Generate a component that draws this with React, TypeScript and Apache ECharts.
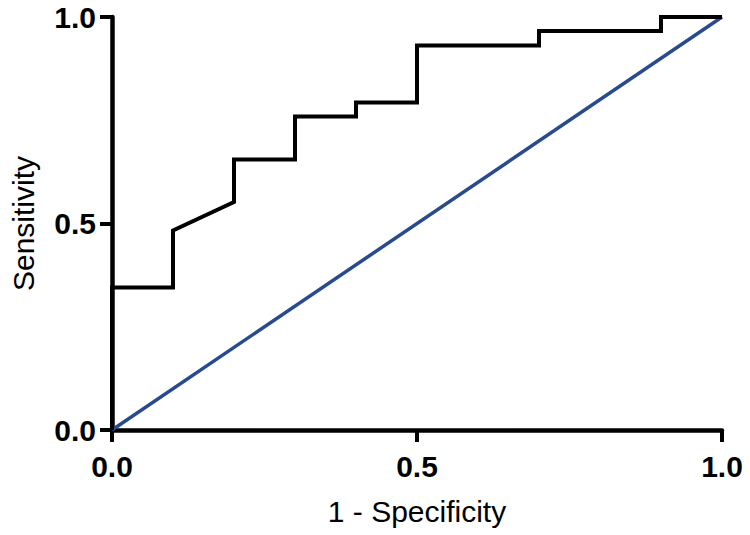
import React, { useEffect, useRef } from "react";
import * as echarts from "echarts";

const fpr = [0, 0, 0.1, 0.1, 0.2, 0.2, 0.3, 0.3, 0.4, 0.4, 0.5, 0.5, 0.7, 0.7, 0.9, 0.9, 1.0];
const sensitivity = [0, 0.345, 0.345, 0.483, 0.552, 0.655, 0.655, 0.759, 0.759, 0.793, 0.793, 0.931, 0.931, 0.966, 0.966, 1.0, 1.0];
const refX = [0, 1];
const refY = [0, 1];
const xTitle = "1 - Specificity";
const yTitle = "Sensitivity";

export default function App() {
  const ref = useRef<HTMLDivElement>(null);
  useEffect(() => {
    if (!ref.current) return;
    const chart = echarts.init(ref.current, null, { renderer: "svg" });
    const font = "Liberation Sans, Arial, sans-serif";
    const axisCommon = {
      type: "value" as const,
      min: 0,
      max: 1,
      interval: 0.5,
      nameLocation: "middle" as const,
      axisLine: { show: true, lineStyle: { color: "#000", width: 4.5 } },
      axisTick: { show: true, inside: false, length: 12, lineStyle: { color: "#000", width: 4 } },
      splitLine: { show: false },
      axisLabel: {
        color: "#000",
        fontSize: 30,
        fontWeight: "bold" as const,
        fontFamily: font,
        formatter: (v: number) => v.toFixed(1),
      },
      nameTextStyle: { color: "#000", fontSize: 30, fontFamily: font },
    };
    chart.setOption({
      animation: false,
      backgroundColor: "#fff",
      grid: { left: 105, right: 28, top: 17, bottom: 105, containLabel: false },
      xAxis: {
        ...axisCommon,
        name: xTitle,
        nameGap: 66,
        axisLabel: { ...axisCommon.axisLabel, margin: 21 },
      },
      yAxis: {
        ...axisCommon,
        name: yTitle,
        nameGap: 74,
        axisLabel: { ...axisCommon.axisLabel, margin: 16 },
      },
      series: [
        {
          type: "line",
          data: refX.map((x, i) => [x, refY[i]]),
          showSymbol: false,
          clip: false,
          lineStyle: { color: "#284a8e", width: 3.5 },
          z: 2,
        },
        {
          type: "line",
          data: fpr.map((x, i) => [x, sensitivity[i]]),
          showSymbol: false,
          clip: false,
          lineStyle: { color: "#000", width: 4, join: "miter" },
          z: 3,
        },
      ],
    });
    return () => chart.dispose();
  }, []);
  return (
    <div
      ref={ref}
      style={{ position: "fixed", left: 0, top: 0, width: 750, height: 535 }}
    />
  );
}
